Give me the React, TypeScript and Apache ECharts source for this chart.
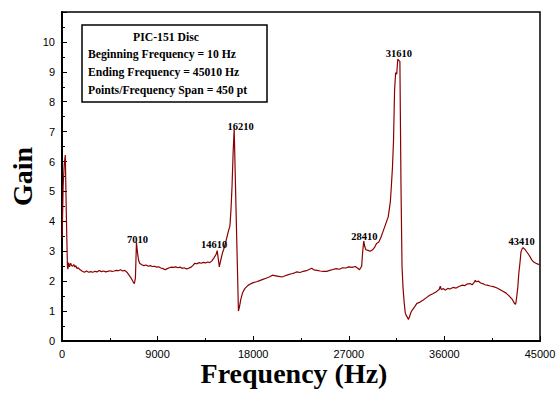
import React, { useEffect, useRef } from "react";
import * as echarts from "echarts";

const freqs = [
  10, 60, 110, 210, 310, 410, 510, 560, 610, 710, 810, 910, 1010, 1110, 1210, 1310, 1410, 1510, 1710, 1910,
  2110, 2310, 2510, 2710, 2910, 3110, 3310, 3510, 3710, 3910, 4110, 4310, 4510, 4710, 4910, 5110, 5310, 5510,
  5710, 5910, 6110, 6310, 6510, 6710, 6810, 6910, 7010, 7110, 7210, 7310, 7510, 7710, 7910, 8110, 8310, 8510,
  8710, 8910, 9110, 9310, 9510, 9710, 9910, 10110, 10310, 10510, 10710, 10910, 11110, 11310, 11510, 11710,
  11910, 12110, 12310, 12510, 12710, 12910, 13110, 13310, 13510, 13710, 13910, 14110, 14310, 14510, 14610,
  14710, 14810, 14910, 15010, 15110, 15210, 15410, 15610, 15810, 15910, 16010, 16110, 16210, 16410, 16610,
  16710, 16810, 16910, 17010, 17210, 17510, 17810, 18010, 18310, 18610, 18910, 19210, 19510, 19810, 20110,
  20410, 20710, 21010, 21310, 21610, 21910, 22110, 22410, 22710, 23010, 23210, 23510, 23710, 24010, 24310,
  24610, 24910, 25210, 25510, 25810, 26110, 26410, 26710, 27010, 27310, 27610, 27810, 28010, 28210, 28310,
  28410, 28510, 28610, 28810, 29010, 29210, 29410, 29610, 29810, 30010, 30210, 30410, 30610, 30710, 30810,
  30910, 31010, 31110, 31210, 31310, 31410, 31510, 31610, 31710, 31810, 31910, 32010, 32110, 32210, 32310,
  32410, 32510, 32610, 32710, 32810, 32910, 33010, 33210, 33410, 33710, 34010, 34310, 34610, 34910, 35210,
  35410, 35510, 35610, 35710, 35910, 36110, 36310, 36510, 36810, 37110, 37410, 37710, 37910, 38110, 38410,
  38610, 38810, 38910, 39010, 39210, 39410, 39610, 39810, 40010, 40310, 40610, 40910, 41210, 41510, 41810,
  42110, 42410, 42610, 42710, 42810, 42910, 43010, 43110, 43210, 43310, 43410, 43610, 43810, 44010, 44210,
  44410, 44610, 44810, 45010,
];

const gains = [
  3.45, 4.3, 5.2, 5.9, 6.22, 4.2, 2.5, 2.4, 2.62, 2.48, 2.6, 2.52, 2.5, 2.56, 2.47, 2.52, 2.42, 2.45, 2.38, 2.33,
  2.3, 2.34, 2.3, 2.32, 2.3, 2.33, 2.31, 2.36, 2.32, 2.34, 2.31, 2.33, 2.35, 2.33, 2.34, 2.36, 2.35, 2.38,
  2.34, 2.36, 2.3, 2.2, 2.1, 1.97, 1.92, 2.1, 3.3, 2.95, 2.7, 2.6, 2.55, 2.52, 2.54, 2.5, 2.52, 2.49,
  2.5, 2.47, 2.48, 2.44, 2.42, 2.38, 2.42, 2.45, 2.47, 2.46, 2.48, 2.45, 2.47, 2.43, 2.45, 2.41,
  2.43, 2.46, 2.52, 2.6, 2.58, 2.62, 2.6, 2.63, 2.61, 2.64, 2.62, 2.68, 2.78, 2.9, 3.02,
  2.75, 2.48, 2.65, 2.8, 2.95, 3.05, 3.3, 3.6, 3.85, 4.4, 5.2, 6.3, 7.1, 4.0, 1.0,
  1.15, 1.35, 1.5, 1.62, 1.75, 1.86, 1.92, 1.95, 1.98, 2.02, 2.06, 2.1, 2.14, 2.2, 2.18,
  2.16, 2.14, 2.18, 2.22, 2.25, 2.28, 2.31, 2.29, 2.33, 2.35, 2.38, 2.43, 2.38, 2.36, 2.34,
  2.33, 2.33, 2.36, 2.39, 2.42, 2.4, 2.45, 2.44, 2.48, 2.46, 2.49, 2.44, 2.38, 2.5, 3.0,
  3.34, 3.15, 3.05, 3.03, 3.0, 3.04, 3.12, 3.26, 3.3, 3.45, 3.65, 3.85, 4.05, 4.15, 4.4,
  4.65, 5.2, 5.8, 6.7, 8.4, 8.97, 8.92, 9.42, 9.38, 9.35, 5.28, 2.5, 1.75, 1.3, 0.95,
  0.85, 0.8, 0.72, 0.8, 0.92, 1.0, 1.05, 1.15, 1.26, 1.3, 1.37, 1.45, 1.53, 1.58, 1.64,
  1.7, 1.72, 1.83, 1.72, 1.75, 1.7, 1.76, 1.74, 1.79, 1.77, 1.83, 1.87, 1.85, 1.9, 1.92,
  1.88, 1.97, 2.03, 1.98, 2.0, 1.94, 1.92, 1.88, 1.87, 1.84, 1.82, 1.78, 1.72, 1.66, 1.6,
  1.5, 1.38, 1.25, 1.23, 1.48, 1.8, 2.28, 2.6, 2.98, 3.08, 3.12, 3.05, 2.95, 2.85, 2.72,
  2.64, 2.6, 2.57, 2.55,
];

const peakFreqs = [7010, 14610, 16210, 28410, 31610, 43410];
const peakGains = [3.3, 3.02, 7.1, 3.34, 9.42, 3.12];
const peakLabelOffsets = [
  [1, -3],
  [-3, -6],
  [6.5, -2],
  [0.5, -5],
  [1, -6],
  [-1.5, -6.5],
];

const yTicksMax = 11;
const infoTitle = "PIC-151 Disc";
const infoLines = [
  "Beginning Frequency = 10 Hz",
  "Ending Frequency = 45010 Hz",
  "Points/Frequency Span = 450 pt",
];

const SERIF = '"Liberation Serif", "Times New Roman", serif';
const SANS = '"Liberation Sans", Arial, sans-serif';

export default function App() {
  const ref = useRef<HTMLDivElement>(null);

  useEffect(() => {
    if (!ref.current) return;
    const chart = echarts.init(ref.current, undefined, { renderer: "svg" });
    const data = freqs.map((f, i) => [f, gains[i]]);
    const boxText = { fontFamily: SERIF, fontWeight: "bold", fontSize: 11.7, fill: "#000" };

    chart.setOption({
      animation: false,
      backgroundColor: "#fff",
      grid: {
        left: 62,
        right: 17,
        top: 12,
        bottom: 54,
        containLabel: false,
        outerBoundsMode: "none",
        show: true,
        borderColor: "#000",
        borderWidth: 1.5,
        backgroundColor: "transparent",
      },
      xAxis: {
        type: "value",
        min: 0,
        max: 45000,
        interval: 9000,
        name: "Frequency (Hz)",
        nameLocation: "middle",
        nameGap: 20,
        nameMoveOverlap: false,
        nameTextStyle: {
          fontFamily: SERIF,
          fontWeight: "bold",
          fontSize: 28,
          lineHeight: 24,
          color: "#000",
          padding: [0, 14, 0, 0],
        },
        axisLine: { show: true, lineStyle: { color: "#000", width: 2 } },
        axisTick: { show: true, inside: true, length: 5, lineStyle: { color: "#000", width: 1 } },
        minorTick: { show: true, splitNumber: 2, length: 3, lineStyle: { color: "#000", width: 1 } },
        axisLabel: {
          fontFamily: SANS,
          fontSize: 11,
          color: "#000",
          margin: 7,
          formatter: (v: number) => String(v),
        },
        splitLine: { show: false },
      },
      yAxis: {
        type: "value",
        min: 0,
        max: yTicksMax,
        interval: 1,
        name: "Gain",
        nameLocation: "middle",
        nameGap: 26,
        nameMoveOverlap: false,
        nameTextStyle: { fontFamily: SERIF, fontWeight: "bold", fontSize: 28, color: "#000" },
        axisLine: { show: true, lineStyle: { color: "#000", width: 2 } },
        axisTick: { show: true, inside: true, length: 5, lineStyle: { color: "#000", width: 1 } },
        minorTick: { show: true, splitNumber: 2, length: 3, lineStyle: { color: "#000", width: 1 } },
        axisLabel: {
          fontFamily: SANS,
          fontSize: 11,
          color: "#000",
          margin: 7,
          formatter: (v: number) => (v >= yTicksMax ? "" : String(v)),
        },
        splitLine: { show: false },
      },
      series: [
        {
          type: "line",
          data,
          showSymbol: false,
          symbol: "none",
          lineStyle: { color: "#8b0000", width: 1.2 },
          markPoint: {
            symbol: "circle",
            symbolSize: 0,
            silent: true,
            label: {
              show: true,
              position: "inside",
              fontFamily: SERIF,
              fontWeight: "bold",
              fontSize: 10.5,
              color: "#000",
            },
            data: peakFreqs.map((f, i) => ({
              name: String(f),
              coord: [f, peakGains[i]],
              label: { formatter: String(f), offset: peakLabelOffsets[i] },
            })),
          },
        },
      ],
      graphic: [
        {
          type: "rect",
          shape: { x: 82, y: 25, width: 185, height: 77 },
          style: { fill: "#fff", stroke: "#000", lineWidth: 1.5 },
          z: 10,
        },
        {
          type: "text",
          x: 166,
          y: 37.5,
          style: { ...boxText, text: infoTitle, align: "center", verticalAlign: "middle" },
          z: 11,
        },
        ...infoLines.map((t, i) => ({
          type: "text",
          x: 88,
          y: 54.5 + i * 18,
          style: { ...boxText, text: t, align: "left", verticalAlign: "middle" },
          z: 11,
        })),
      ],
    });

    return () => chart.dispose();
  }, []);

  return (
    <div
      ref={ref}
      style={{ position: "absolute", left: 0, top: 0, width: 557, height: 395 }}
    />
  );
}
